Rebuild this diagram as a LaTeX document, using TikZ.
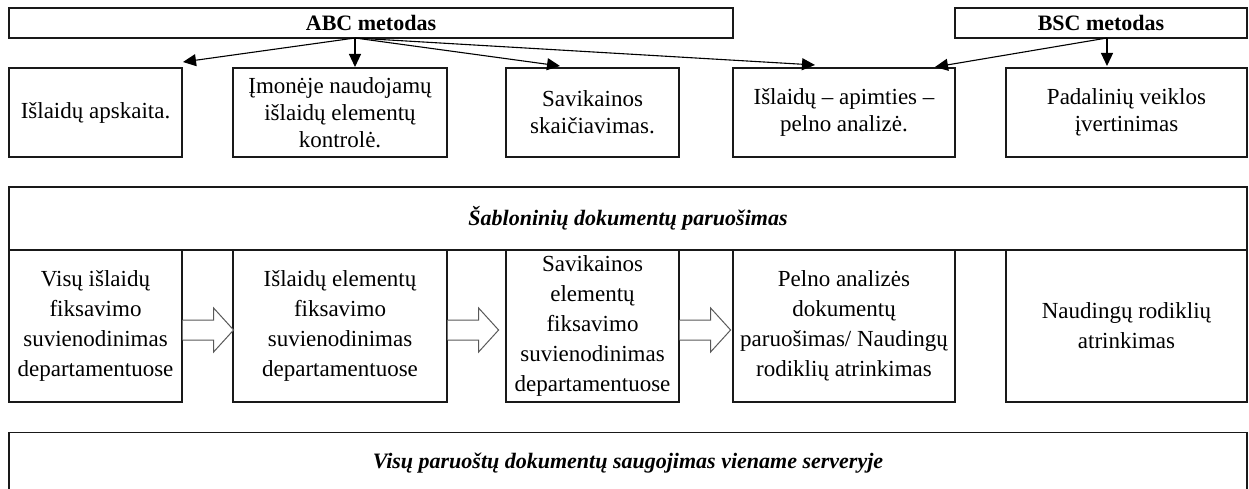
\documentclass[tikz,border=0pt]{standalone}
\usepackage{fontspec}
\setmainfont{Liberation Serif}
\usetikzlibrary{arrows.meta,calc}

% wide outlined arrow between two neighbouring boxes of the lower row
\newcommand\hollowarrow[1]{%
  \draw[hollow] ($(#1.east)+(0,-6)$) -- ++(31,0) -- ++(0,-12)
    -- ($(#1.east)+(51,4)$) -- ($(#1.east)+(31,26)$) -- ++(0,-12)
    -- ($(#1.east)+(0,14)$);}

\begin{document}
\begin{tikzpicture}[x=1pt,y=-1pt,
  box/.style={draw=black!90,line width=1.2pt,fill=white,inner sep=0pt,
              align=center,anchor=center},
  toprow/.style={box,font=\fontsize{23}{27}\selectfont},
  lowrow/.style={box,font=\fontsize{23}{30}\selectfont},
  method/.style={box,font=\fontsize{22}{26}\selectfont\bfseries},
  band/.style={box,font=\fontsize{22}{26}\selectfont\bfseries\itshape},
  link/.style={draw=black,line width=1.1pt,-{Triangle[length=13pt,width=12pt]}},
  hollow/.style={draw=black!65,line width=1pt,fill=white}
]
\useasboundingbox (0,0) rectangle (1249,489);
\clip (0,0) rectangle (1249,489);

% method boxes
\node[method,minimum width=724,minimum height=30] (abc) at (371,23) {ABC metodas};
\node[method,minimum width=292,minimum height=30] (bsc) at (1101,23) {BSC metodas};

% first row of tasks
\node[toprow,minimum width=173,minimum height=89] (t1) at (95.5,112.5) {Išlaidų apskaita.};
\node[toprow,minimum width=214,minimum height=89] (t2) at (340,112.5)
  {Įmonėje naudojamų\\išlaidų elementų\\kontrolė.};
\node[toprow,minimum width=173,minimum height=89] (t3) at (592.5,112.5)
  {Savikainos\\skaičiavimas.};
\node[toprow,minimum width=222,minimum height=89] (t4) at (844,112.5)
  {Išlaidų – apimties –\\pelno analizė.};
\node[toprow,minimum width=241,minimum height=89] (t5) at (1126.5,112.5)
  {Padalinių veiklos\\įvertinimas};

% arrows from the methods
\coordinate (abcO) at (355,38);
\coordinate (e1) at (183,62);
\coordinate (e2) at (355,67);
\coordinate (e3) at (560,66);
\coordinate (e4) at (815,65);
\coordinate (bscO) at (1107,38);
\coordinate (e5) at (935,67);
\coordinate (e6) at (1107,66);
\draw[link] (abcO) -- (e1);
\draw[link] (abcO) -- (e2);
\draw[link] (abcO) -- (e3);
\draw[link] (abcO) -- (e4);
\draw[link] (bscO) -- (e5);
\draw[link] (bscO) -- (e6);

% template preparation band
\node[band,minimum width=1238,minimum height=63] (tpl) at (628,218.5)
  {Šabloninių dokumentų paruošimas};

% second row of tasks
\node[lowrow,minimum width=173,minimum height=152] (s1) at (95.5,326)
  {Visų išlaidų\\fiksavimo\\suvienodinimas\\departamentuose};
\node[lowrow,minimum width=214,minimum height=152] (s2) at (340,326)
  {Išlaidų elementų\\fiksavimo\\suvienodinimas\\departamentuose};
\node[lowrow,minimum width=173,minimum height=152] (s3) at (592.5,326)
  {Savikainos\\elementų\\fiksavimo\\suvienodinimas\\departamentuose};
\node[lowrow,minimum width=222,minimum height=152] (s4) at (844,326)
  {Pelno analizės\\dokumentų\\paruošimas/ Naudingų\\rodiklių atrinkimas};
\node[lowrow,minimum width=241,minimum height=152] (s5) at (1126.5,326)
  {Naudingų rodiklių\\atrinkimas};

\hollowarrow{s1}
\hollowarrow{s2}
\hollowarrow{s3}

% storage band, running past the lower edge
\node[band,minimum width=1238,minimum height=62,anchor=north] (store) at (628,432)
  {Visų paruoštų dokumentų saugojimas viename serveryje};
\end{tikzpicture}
\end{document}
